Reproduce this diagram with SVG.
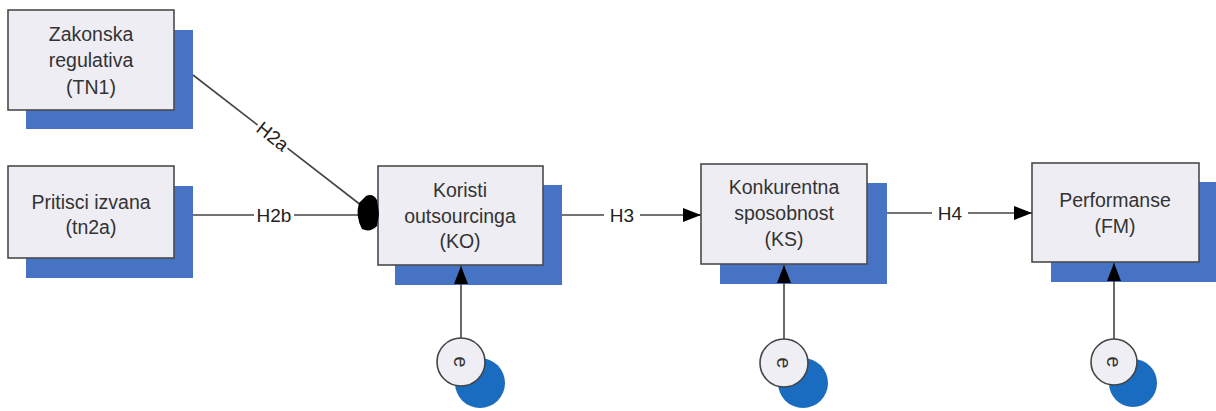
<svg xmlns="http://www.w3.org/2000/svg" width="1216" height="411" viewBox="0 0 1216 411">
<defs>
<style>
.box{fill:#eeedf4;stroke:#4a4a4a;stroke-width:1.6}
.shadow{fill:#4673c4}
.t{font-family:"Liberation Sans",Arial,sans-serif;font-size:19.5px;fill:#333;text-anchor:middle}
.lbl{font-family:"Liberation Sans",Arial,sans-serif;font-size:19px;fill:#222;text-anchor:middle}
.edge{stroke:#444;stroke-width:1.6;fill:none}
.ecirc{fill:#efeef4;stroke:#444;stroke-width:1.6}
.eblue{fill:#1a6cc0}
.bg{fill:#fff}
</style>
<marker id="arr" markerWidth="18" markerHeight="14" refX="18" refY="7" orient="auto" markerUnits="userSpaceOnUse">
<path d="M0,0 L18,7 L0,14 Z" fill="#000"/>
</marker>
</defs>
<rect width="1216" height="411" fill="#fff"/>

<g id="TN1">
<rect class="shadow" x="26" y="30" width="167" height="99"/>
<rect class="box" x="8" y="10" width="166" height="100"/>
<text class="t" x="91" y="41">Zakonska</text>
<text class="t" x="91" y="67">regulativa</text>
<text class="t" x="91" y="94">(TN1)</text>
</g>

<g id="tn2a">
<rect class="shadow" x="26" y="186" width="167" height="92"/>
<rect class="box" x="8" y="166" width="166" height="92"/>
<text class="t" x="91" y="209">Pritisci izvana</text>
<text class="t" x="91" y="234">(tn2a)</text>
</g>

<g id="KO">
<rect class="shadow" x="395" y="185" width="167" height="100"/>
<rect class="box" x="378" y="166" width="165" height="99"/>
<text class="t" x="460" y="197">Koristi</text>
<text class="t" x="460" y="223">outsourcinga</text>
<text class="t" x="460" y="248">(KO)</text>
</g>

<g id="KS">
<rect class="shadow" x="720" y="183" width="167" height="101"/>
<rect class="box" x="701" y="164" width="166" height="100"/>
<text class="t" x="784" y="194">Konkurentna</text>
<text class="t" x="784" y="220">sposobnost</text>
<text class="t" x="784" y="246">(KS)</text>
</g>

<g id="FM">
<rect class="shadow" x="1051" y="182" width="165" height="100"/>
<rect class="box" x="1032" y="163" width="167" height="99"/>
<text class="t" x="1115" y="207">Performanse</text>
<text class="t" x="1115" y="233">(FM)</text>
</g>

<g id="connectors">
<line class="edge" x1="193" y1="75" x2="366" y2="209"/>
<line class="edge" x1="193" y1="215" x2="362" y2="215"/>
<path d="M366,196 Q373,193 377,200 L379,214 L377,226 Q370,233 362,229 Q355,216 359,203 Z" fill="#000"/>
<line class="edge" x1="562" y1="215" x2="701" y2="215" marker-end="url(#arr)"/>
<line class="edge" x1="887" y1="213" x2="1032" y2="213" marker-end="url(#arr)"/>
<line class="edge" x1="461" y1="338" x2="461" y2="266" marker-end="url(#arr)"/>
<line class="edge" x1="784" y1="339" x2="784" y2="265" marker-end="url(#arr)"/>
<line class="edge" x1="1114" y1="339" x2="1114" y2="263" marker-end="url(#arr)"/>
<g transform="translate(273,136) rotate(38)">
<rect class="bg" x="-19" y="-9" width="38" height="18"/>
<text class="lbl" x="0" y="7">H2a</text>
</g>
<rect class="bg" x="254" y="205" width="40" height="20"/>
<text class="lbl" x="274" y="222">H2b</text>
<rect class="bg" x="604" y="205" width="36" height="20"/>
<text class="lbl" x="622" y="222">H3</text>
<rect class="bg" x="932" y="203" width="36" height="20"/>
<text class="lbl" x="950" y="220">H4</text>
</g>

<g id="e1">
<circle class="eblue" cx="480" cy="383" r="25"/>
<circle class="ecirc" cx="461" cy="362" r="24"/>
<text class="t" transform="translate(461,362) rotate(90)" x="0" y="7">e</text>
</g>
<g id="e2">
<circle class="eblue" cx="803" cy="383" r="25"/>
<circle class="ecirc" cx="784" cy="363" r="24"/>
<text class="t" transform="translate(784,363) rotate(90)" x="0" y="7">e</text>
</g>
<g id="e3">
<circle class="eblue" cx="1133" cy="383" r="24"/>
<circle class="ecirc" cx="1114" cy="362" r="23"/>
<text class="t" transform="translate(1114,362) rotate(90)" x="0" y="7">e</text>
</g>
</svg>
